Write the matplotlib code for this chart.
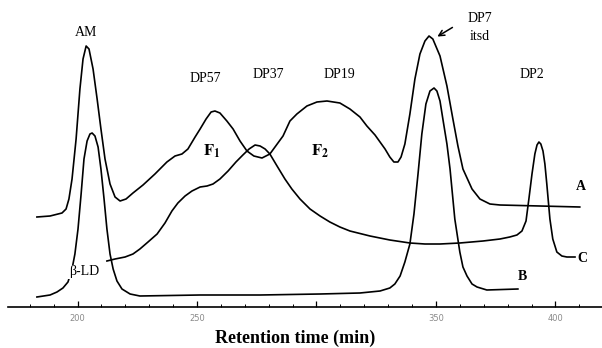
import matplotlib
matplotlib.use("Agg")
import matplotlib.pyplot as plt
from matplotlib.ticker import MultipleLocator, FixedLocator

plt.rcParams["font.family"] = ["Liberation Serif", "DejaVu Serif"]
plt.rcParams["mathtext.fontset"] = "stix"

# Chromatogram traces (retention time in min, detector signal in arbitrary units)
time_a = [183.0, 188.5, 193.5, 195.2, 196.4, 197.7, 199.4, 201.0, 202.3, 203.6,
          204.8, 206.5, 208.2, 209.8, 211.5, 213.6, 215.7, 217.8, 220.3, 223.2,
          227.4, 232.4, 237.4, 240.8, 243.7, 246.2, 249.2, 251.3, 253.8, 255.9,
          257.5, 259.6, 262.5, 265.1, 268.0, 270.9, 273.8, 277.2, 280.5, 286.0,
          288.9, 291.8, 296.0, 300.2, 304.4, 309.8, 314.0, 318.2, 321.1, 324.5,
          326.6, 328.7, 330.7, 332.4, 334.1, 335.4, 337.0, 339.1, 341.2, 343.3,
          345.4, 347.1, 348.7, 351.7, 354.6, 357.1, 359.2, 361.3, 365.1, 368.4,
          372.6, 376.8, 393.5, 410.2]
signal_a = [90, 91, 94, 98, 108, 128, 168, 218, 248, 261,
            258, 238, 208, 178, 148, 123, 110, 106, 108, 114,
            122, 133, 145, 151, 153, 158, 170, 178, 188, 195,
            196, 194, 186, 178, 166, 156, 151, 149, 153, 171,
            186, 193, 201, 205, 206, 204, 198, 190, 181, 172,
            165, 158, 150, 145, 145, 150, 163, 193, 228, 253,
            266, 271, 268, 251, 221, 188, 161, 138, 118, 108,
            103, 102, 101, 100]

time_b = [183.0, 188.5, 191.4, 193.9, 196.0, 197.7, 198.9, 200.2, 201.5, 202.7,
          204.0, 205.2, 206.1, 207.3, 208.6, 209.8, 211.1, 212.3, 213.6, 214.9,
          216.5, 218.6, 222.0, 226.1, 251.3, 276.4, 301.5, 318.2, 326.6, 330.7,
          332.8, 335.0, 337.0, 339.1, 340.8, 342.5, 344.1, 345.8, 347.5, 349.2,
          350.4, 351.7, 352.9, 354.6, 355.9, 357.9, 360.0, 361.3, 363.0, 365.1,
          367.2, 371.3, 384.3]
signal_b = [10, 12, 15, 19, 25, 38, 53, 78, 113, 148,
            166, 173, 174, 171, 160, 138, 108, 78, 53, 38,
            26, 18, 13, 11, 12, 12, 13, 14, 16, 19,
            23, 31, 45, 63, 93, 133, 173, 203, 216, 219,
            216, 206, 188, 163, 138, 88, 55, 40, 31, 23,
            20, 17, 18]

time_c = [212.3, 215.7, 219.9, 223.2, 226.1, 229.5, 233.3, 236.6, 239.5, 242.0,
          245.0, 247.9, 251.3, 254.2, 256.7, 259.6, 263.0, 266.3, 269.2, 271.8,
          274.3, 276.4, 278.5, 280.5, 283.5, 286.8, 289.7, 293.1, 297.3, 301.5,
          305.6, 309.8, 314.0, 322.4, 330.7, 339.1, 345.4, 351.7, 360.0, 369.7,
          376.8, 380.9, 383.9, 386.0, 387.7, 388.9, 390.2, 391.4, 392.3, 393.1,
          393.9, 394.8, 395.6, 396.4, 397.7, 398.9, 400.6, 402.7, 404.8, 408.2]
signal_c = [46, 48, 50, 53, 58, 65, 73, 84, 96, 104,
            111, 116, 120, 121, 123, 128, 136, 145, 152, 158,
            162, 161, 158, 153, 141, 128, 118, 108, 98, 91,
            85, 80, 76, 71, 67, 64, 63, 63, 64, 66,
            68, 70, 72, 76, 86, 108, 133, 153, 162, 165,
            163, 156, 143, 123, 88, 68, 55, 51, 50, 50]

tick_values = [200, 250, 300, 350, 400]
tick_labels = ["200", "250", "", "350", "400"]

fig = plt.figure(figsize=(6.02, 3.48), dpi=100)
ax = fig.add_axes([8 / 602, 41 / 348, 594 / 602, 307 / 348])

for t, s in [(time_a, signal_a), (time_b, signal_b), (time_c, signal_c)]:
    ax.plot(t, s, color="black", lw=1.2, solid_joinstyle="round")

ax.set_xlim(170.9, 419.5)
ax.set_ylim(0, 307)

for side in ["left", "right", "top"]:
    ax.spines[side].set_visible(False)
ax.spines["bottom"].set_linewidth(1.2)
ax.set_yticks([])
ax.xaxis.set_major_locator(FixedLocator(tick_values))
ax.set_xticklabels(tick_labels)
ax.xaxis.set_minor_locator(MultipleLocator(10))
ax.tick_params(axis="x", which="major", direction="in", length=4, width=0.9,
               labelsize=6, labelcolor="#8a8a8a", pad=5)
ax.tick_params(axis="x", which="minor", direction="in", length=2, width=0.7)
for lab in ax.get_xticklabels():
    lab.set_family("DejaVu Sans")

# peak annotations
ax.text(203.6, 275, "AM", fontsize=10, ha="center", va="center")
ax.text(253.3, 229, "DP57", fontsize=10, ha="center", va="center")
ax.text(279.7, 233, "DP37", fontsize=10, ha="center", va="center")
ax.text(309.8, 233, "DP19", fontsize=10, ha="center", va="center")
ax.text(368.4, 288, "DP7", fontsize=10, ha="center", va="center")
ax.text(368.4, 270, "itsd", fontsize=10, ha="center", va="center")
ax.text(390.2, 233, "DP2", fontsize=10, ha="center", va="center")
ax.annotate("", xy=(349.6, 269), xytext=(357.9, 281),
            arrowprops=dict(arrowstyle="->", color="black", lw=1.1))
ax.text(202.7, 35, "β-LD", fontsize=10, ha="center", va="center",
        bbox=dict(facecolor="white", edgecolor="none", pad=0.5))
ax.text(256.3, 156, r"$\mathbf{F_1}$", fontsize=12, ha="center", va="center")
ax.text(301.5, 156, r"$\mathbf{F_2}$", fontsize=12, ha="center", va="center")

# trace labels
ax.text(410.6, 121, "A", fontsize=10, fontweight="bold", ha="center", va="center")
ax.text(386.4, 31, "B", fontsize=10, fontweight="bold", ha="center", va="center")
ax.text(411.1, 48, "C", fontsize=10, fontweight="bold", ha="center", va="center")

fig.text(295 / 602, 10 / 348, "Retention time (min)", fontsize=13,
         fontweight="bold", ha="center", va="center")

fig.savefig("out.png", dpi=100)
